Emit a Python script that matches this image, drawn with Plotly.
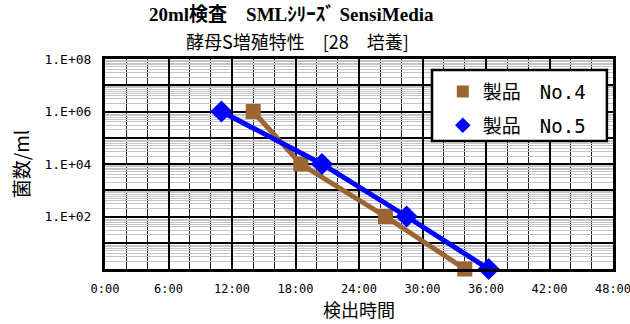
import plotly.graph_objects as go

# Data (hours since start, cfu/ml)
no4_hours = [14.0, 18.5, 26.5, 34.0]
no4_counts = [1e6, 1e4, 1e2, 1e0]
no5_hours = [11.0, 20.5, 28.5, 36.25]
no5_counts = [1e6, 1e4, 1e2, 1e0]

x_tickvals = [0, 6, 12, 18, 24, 30, 36, 42, 48]
x_ticktext = ["0:00", "6:00", "12:00", "18:00", "24:00", "30:00", "36:00", "42:00", "48:00"]
y_tickvals = [1e0, 1e1, 1e2, 1e3, 1e4, 1e5, 1e6, 1e7, 1e8]
y_ticktext = ["", "", "1.E+02", "", "1.E+04", "", "1.E+06", "", "1.E+08"]

title1 = "20ml検査　SMLｼﾘｰｽﾞ SensiMedia"
title2 = "酵母S増殖特性　[28　培養]"
series_names = ["製品　No.4", "製品　No.5"]

BROWN = "#9C6534"
BLUE = "#0000FF"
MONO = "DejaVu Sans Mono, Noto Sans CJK JP"
CJK = "Noto Sans CJK JP, Noto Sans"

fig = go.Figure()
series = [
    (no4_hours, no4_counts, series_names[0], BROWN, "square", 15),
    (no5_hours, no5_counts, series_names[1], BLUE, "diamond", 17),
]
for i, (xs, ys, name, col, sym, sz) in enumerate(series):
    fig.add_trace(go.Scatter(
        x=xs, y=ys, mode="lines", showlegend=False, cliponaxis=False,
        line=dict(color=col, width=5), hoverinfo="skip",
    ))
    fig.add_trace(go.Scatter(
        x=xs, y=ys, name=name, legendgroup="g%d" % i, mode="markers", cliponaxis=False,
        marker=dict(symbol=sym, size=sz, color=col),
    ))

fig.update_layout(
    width=630, height=324,
    margin=dict(l=105, r=17, t=59, b=55, autoexpand=False),
    paper_bgcolor="white", plot_bgcolor="white",
    showlegend=True,
    legend=dict(
        x=0.665, y=0.935, xanchor="left", yanchor="top",
        bgcolor="rgba(0,0,0,0)", borderwidth=0,
        font=dict(family=MONO, size=19, color="black"),
        tracegroupgap=6, itemsizing="constant",
    ),
    shapes=[
        dict(type="rect", xref="paper", yref="paper", x0=0.6437, x1=0.988, y0=0.6095, y1=0.948,
             fillcolor="white", line=dict(color="black", width=2.5), layer="above"),
    ],
    annotations=[
        dict(text="<b>" + title1 + "</b>", xref="paper", yref="paper", x=(291 - 105) / 508, y=1.0,
             xanchor="center", yanchor="bottom", yshift=32, showarrow=False,
             font=dict(family="Liberation Serif, Noto Sans CJK JP", size=19, color="black")),
        dict(text=title2, xref="paper", yref="paper", x=(297 - 105) / 508, y=1.0,
             xanchor="center", yanchor="bottom", yshift=3, showarrow=False,
             font=dict(family=CJK, size=18, color="black")),
    ],
)

fig.update_xaxes(
    range=[0, 48], tickmode="array", tickvals=x_tickvals, ticktext=x_ticktext,
    showgrid=True, gridcolor="black", gridwidth=2,
    minor=dict(dtick=2, showgrid=True, gridcolor="#222222", gridwidth=1),
    showline=True, linecolor="black", linewidth=3, mirror=True,
    ticks="", ticklabelstandoff=7, ticklabeloverflow="allow", automargin=False,
    tickfont=dict(family=MONO, size=12, color="black"),
    title=dict(text="検出時間", font=dict(family=CJK, size=18, color="black"), standoff=4),
    zeroline=False,
)
fig.update_yaxes(
    type="log", range=[0, 8], tickmode="array", tickvals=y_tickvals, ticktext=y_ticktext,
    showgrid=True, gridcolor="black", gridwidth=2,
    minor=dict(dtick="D1", showgrid=True, gridcolor="#c4c4c4", gridwidth=1),
    showline=True, linecolor="black", linewidth=3, mirror=True,
    ticks="", ticklabelstandoff=8, automargin=False,
    tickfont=dict(family=MONO, size=13, color="black"),
    title=dict(text="菌数/ml", font=dict(family=CJK, size=19, color="black"), standoff=10),
    zeroline=False,
)

fig.write_html("out.html", config={"displayModeBar": False},
               post_script="document.body.style.margin='0';document.body.style.padding='0';")
